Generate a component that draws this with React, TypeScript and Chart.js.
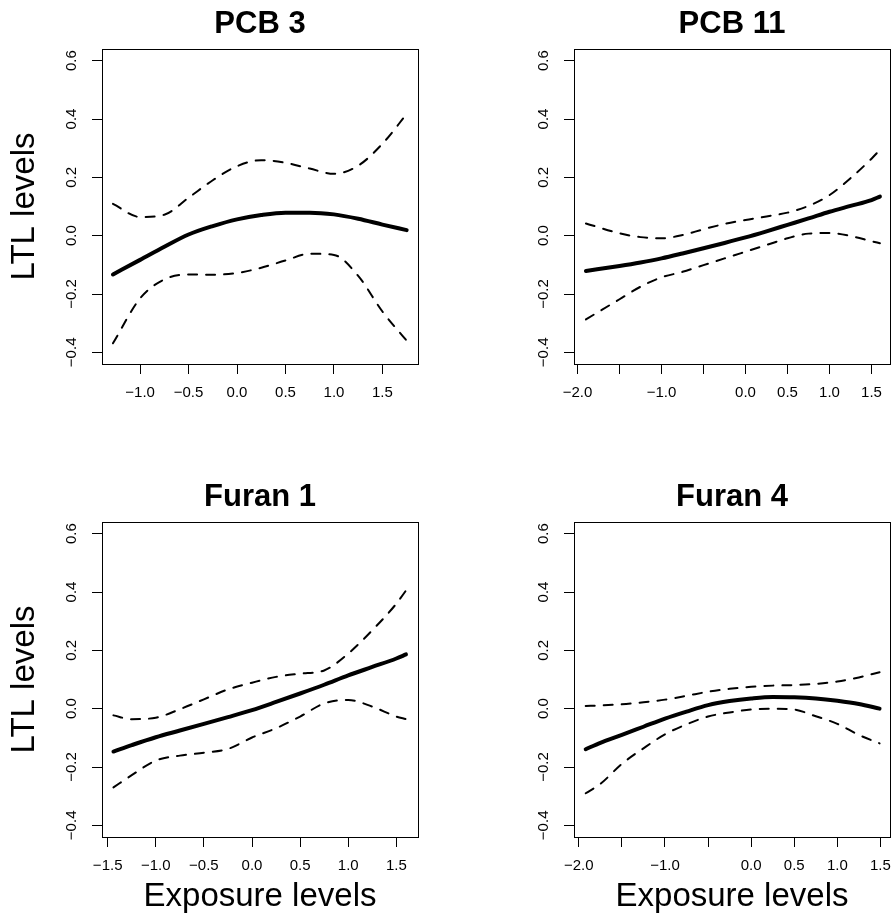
import React, { useEffect, useRef } from 'react';
import { Chart, registerables } from 'chart.js';

Chart.register(...registerables);

const FONT = "'Liberation Sans', Arial, Helvetica, sans-serif";
Chart.defaults.font.family = FONT;
Chart.defaults.color = '#000';

// ---------- shared y axis ----------
const yTickValues = [-0.4, -0.2, 0.0, 0.2, 0.4, 0.6];
const yTickLabels = ['\u22120.4', '\u22120.2', '0.0', '0.2', '0.4', '0.6'];
const yMin = -0.44;
const yMax = 0.64;

// ---------- PCB 3 ----------
const pcb3X = [-1.28, -1.0, -0.75, -0.5, -0.25, 0, 0.25, 0.5, 0.75, 1.0, 1.25, 1.5, 1.75];
const pcb3Fit = [-0.133, -0.083, -0.038, 0.004, 0.033, 0.056, 0.071, 0.079, 0.079, 0.073, 0.058, 0.038, 0.019];
const pcb3Upper = [0.109, 0.064, 0.072, 0.13, 0.19, 0.238, 0.259, 0.25, 0.23, 0.212, 0.24, 0.315, 0.417];
const pcb3Lower = [-0.369, -0.215, -0.15, -0.133, -0.134, -0.128, -0.11, -0.085, -0.062, -0.066, -0.138, -0.26, -0.36];
const pcb3XRange = [-1.393, 1.867];
const pcb3XTicks = [-1.0, -0.5, 0.0, 0.5, 1.0, 1.5];
const pcb3XTickLabels = ['\u22121.0', '\u22120.5', '0.0', '0.5', '1.0', '1.5'];

// ---------- PCB 11 ----------
const pcb11X = [-1.9, -1.5, -1.25, -1.0, -0.75, -0.5, -0.25, 0, 0.25, 0.5, 0.75, 1.0, 1.25, 1.5, 1.6];
const pcb11Fit = [-0.121, -0.104, -0.092, -0.078, -0.061, -0.043, -0.025, -0.006, 0.015, 0.037, 0.059, 0.082, 0.102, 0.122, 0.134];
const pcb11Upper = [0.042, 0.008, -0.005, -0.009, 0.002, 0.022, 0.04, 0.054, 0.066, 0.079, 0.102, 0.139, 0.197, 0.264, 0.294];
const pcb11Lower = [-0.287, -0.218, -0.175, -0.143, -0.124, -0.101, -0.078, -0.055, -0.032, -0.009, 0.007, 0.009, -0.001, -0.019, -0.026];
const pcb11XRange = [-2.042, 1.72];
const pcb11XTicks = [-2.0, -1.5, -1.0, -0.5, 0.0, 0.5, 1.0, 1.5];
const pcb11XTickLabels = ['\u22122.0', '', '\u22121.0', '', '0.0', '0.5', '1.0', '1.5'];

// ---------- Furan 1 ----------
const furan1X = [-1.44, -1.25, -1.0, -0.75, -0.5, -0.25, 0, 0.25, 0.5, 0.75, 1.0, 1.25, 1.5, 1.6];
const furan1Fit = [-0.147, -0.125, -0.098, -0.075, -0.052, -0.029, -0.005, 0.023, 0.052, 0.082, 0.114, 0.143, 0.172, 0.186];
const furan1Upper = [-0.023, -0.036, -0.031, -0.002, 0.032, 0.066, 0.089, 0.109, 0.12, 0.131, 0.189, 0.269, 0.36, 0.405];
const furan1Lower = [-0.27, -0.228, -0.178, -0.161, -0.151, -0.138, -0.099, -0.067, -0.027, 0.018, 0.03, 0.007, -0.027, -0.036];
const furan1XRange = [-1.559, 1.725];
const furan1XTicks = [-1.5, -1.0, -0.5, 0.0, 0.5, 1.0, 1.5];
const furan1XTickLabels = ['\u22121.5', '\u22121.0', '\u22120.5', '0.0', '0.5', '1.0', '1.5'];

// ---------- Furan 4 ----------
const furan4X = [-1.92, -1.75, -1.5, -1.25, -1.0, -0.75, -0.5, -0.25, 0, 0.25, 0.5, 0.75, 1.0, 1.25, 1.49];
const furan4Fit = [-0.139, -0.117, -0.09, -0.062, -0.034, -0.01, 0.012, 0.026, 0.035, 0.04, 0.039, 0.035, 0.027, 0.016, 0.0];
const furan4Upper = [0.009, 0.011, 0.015, 0.022, 0.031, 0.044, 0.058, 0.068, 0.075, 0.079, 0.081, 0.085, 0.093, 0.107, 0.125];
const furan4Lower = [-0.29, -0.258, -0.189, -0.136, -0.088, -0.054, -0.027, -0.013, -0.003, 0.0, -0.003, -0.026, -0.052, -0.09, -0.119];
const furan4XRange = [-2.056, 1.611];
const furan4XTicks = [-2.0, -1.5, -1.0, -0.5, 0.0, 0.5, 1.0, 1.5];
const furan4XTickLabels = ['\u22122.0', '', '\u22121.0', '', '0.0', '0.5', '1.0', '1.5'];

interface PanelProps {
  title: string;
  xs: number[];
  fit: number[];
  upper: number[];
  lower: number[];
  xRange: number[];
  xTicks: number[];
  xTickLabels: string[];
  showXTitle: boolean;
  showYTitle: boolean;
  left: number;
  top: number;
  width: number;
  height: number;
}

const AREA_LEFT = 102;
const AREA_TOP = 49;
const AREA_W = 316;
const AREA_H = 315;
const TITLE_SIZE = 31;
const AXIS_TITLE_SIZE = 33;

const boxPlugin = {
  id: 'rbox',
  afterDraw(chart: any) {
    const { ctx, chartArea: a } = chart;
    ctx.save();
    ctx.strokeStyle = '#000';
    ctx.lineWidth = 1;
    ctx.strokeRect(Math.round(a.left) + 0.5, Math.round(a.top) + 0.5, Math.round(a.right - a.left), Math.round(a.bottom - a.top));
    ctx.restore();
  },
};

const toPts = (xs: number[], ys: number[]) => xs.map((x, i) => ({ x, y: ys[i] }));

function Panel(p: PanelProps) {
  const ref = useRef<HTMLCanvasElement | null>(null);
  useEffect(() => {
    if (!ref.current) return;
    const dashed = {
      borderColor: '#000',
      borderWidth: 2,
      borderDash: [9, 9],
      borderCapStyle: 'round' as const,
      pointRadius: 0,
      cubicInterpolationMode: 'monotone' as const,
      fill: false,
    };
    const chart = new Chart(ref.current, {
      type: 'line',
      data: {
        datasets: [
          { ...dashed, data: toPts(p.xs, p.upper) },
          { ...dashed, data: toPts(p.xs, p.lower) },
          {
            data: toPts(p.xs, p.fit),
            borderColor: '#000',
            borderWidth: 4,
            borderCapStyle: 'round',
            borderJoinStyle: 'round',
            pointRadius: 0,
            cubicInterpolationMode: 'monotone',
            fill: false,
          },
        ],
      },
      options: {
        animation: false,
        responsive: false,
        events: [],
        layout: { padding: { left: AREA_LEFT - 102, top: 0, right: p.width - AREA_LEFT - AREA_W, bottom: 0 } },
        plugins: {
          legend: { display: false },
          tooltip: { enabled: false },
          title: {
            display: true,
            text: p.title,
            fullSize: false,
            color: '#000',
            font: { family: FONT, size: TITLE_SIZE, weight: 'bold', lineHeight: 1.2 },
            padding: { top: 5.4, bottom: AREA_TOP - 5.4 - TITLE_SIZE * 1.2 },
          },
        },
        scales: {
          x: {
            type: 'linear',
            bounds: 'data',
            min: p.xRange[0],
            max: p.xRange[1],
            afterBuildTicks: (s: any) => {
              s.ticks = p.xTicks.map((v) => ({ value: v }));
            },
            afterFit: (s: any) => {
              s.height = p.height - AREA_TOP - AREA_H;
            },
            grid: { display: true, drawOnChartArea: false, drawTicks: true, tickLength: 10, tickColor: '#000', tickWidth: 1, color: '#000' },
            border: { display: false },
            ticks: {
              autoSkip: false,
              minRotation: 0,
              maxRotation: 0,
              padding: 0,
              color: '#000',
              font: { family: FONT, size: 15, lineHeight: 2.53 },
              callback: (_v: any, i: number) => p.xTickLabels[i],
            },
            title: {
              display: p.showXTitle,
              text: 'Exposure levels',
              color: '#000',
              font: { family: FONT, size: AXIS_TITLE_SIZE, lineHeight: 1.2 },
              padding: { top: 0, bottom: 24 - AXIS_TITLE_SIZE * 0.6 },
            },
          },
          y: {
            type: 'linear',
            bounds: 'data',
            min: yMin,
            max: yMax,
            afterBuildTicks: (s: any) => {
              s.ticks = yTickValues.map((v) => ({ value: v }));
            },
            afterFit: (s: any) => {
              s.width = AREA_LEFT;
            },
            grid: { display: true, drawOnChartArea: false, drawTicks: true, tickLength: 10, tickColor: '#000', tickWidth: 1, color: '#000' },
            border: { display: false },
            ticks: {
              autoSkip: false,
              minRotation: 90,
              maxRotation: 90,
              crossAlign: 'center',
              padding: 5,
              color: '#000',
              font: { family: FONT, size: 15, lineHeight: 1.2 },
              callback: (_v: any, i: number) => yTickLabels[i],
            },
            title: {
              display: p.showYTitle,
              text: 'LTL levels',
              color: '#000',
              font: { family: FONT, size: AXIS_TITLE_SIZE, lineHeight: 1.2 },
              padding: { top: 25 - AXIS_TITLE_SIZE * 0.6, bottom: 0 },
            },
          },
        },
      } as any,
      plugins: [boxPlugin],
    });
    return () => chart.destroy();
  }, []);
  return (
    <canvas
      ref={ref}
      width={p.width}
      height={p.height}
      style={{ position: 'absolute', left: p.left, top: p.top, width: p.width, height: p.height }}
    />
  );
}

export default function App() {
  return (
    <div style={{ position: 'absolute', left: 0, top: 0, width: 892, height: 921, background: '#fff', overflow: 'hidden' }}>
      <Panel title="PCB 3" xs={pcb3X} fit={pcb3Fit} upper={pcb3Upper} lower={pcb3Lower} xRange={pcb3XRange}
        xTicks={pcb3XTicks} xTickLabels={pcb3XTickLabels} showXTitle={false} showYTitle={true}
        left={0} top={0} width={472} height={473} />
      <Panel title="PCB 11" xs={pcb11X} fit={pcb11Fit} upper={pcb11Upper} lower={pcb11Lower} xRange={pcb11XRange}
        xTicks={pcb11XTicks} xTickLabels={pcb11XTickLabels} showXTitle={false} showYTitle={false}
        left={472} top={0} width={420} height={473} />
      <Panel title="Furan 1" xs={furan1X} fit={furan1Fit} upper={furan1Upper} lower={furan1Lower} xRange={furan1XRange}
        xTicks={furan1XTicks} xTickLabels={furan1XTickLabels} showXTitle={true} showYTitle={true}
        left={0} top={473} width={472} height={448} />
      <Panel title="Furan 4" xs={furan4X} fit={furan4Fit} upper={furan4Upper} lower={furan4Lower} xRange={furan4XRange}
        xTicks={furan4XTicks} xTickLabels={furan4XTickLabels} showXTitle={true} showYTitle={false}
        left={472} top={473} width={420} height={448} />
    </div>
  );
}
